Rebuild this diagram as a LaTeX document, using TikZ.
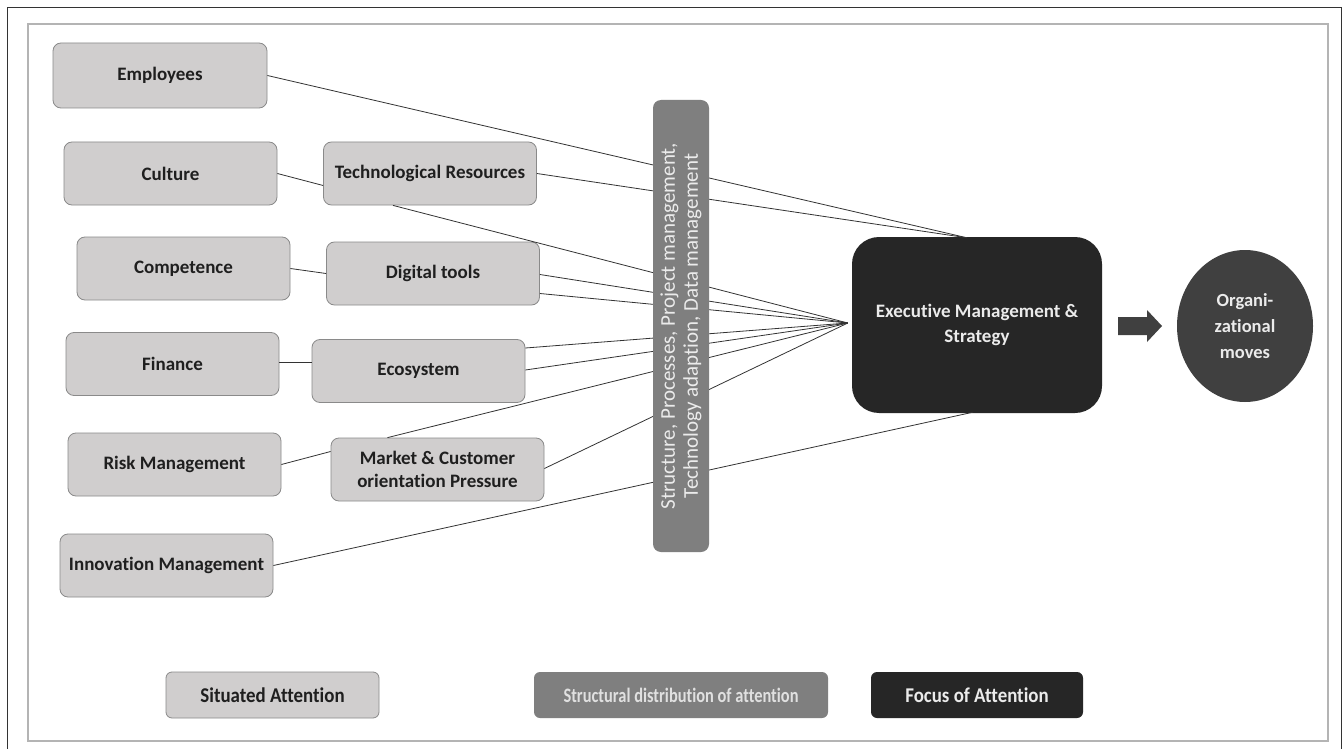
\documentclass[tikz,border=0pt]{standalone}
\usepackage{fontspec}
\setmainfont{Carlito}[Ligatures=NoCommon]
\usetikzlibrary{calc,shapes.geometric}

\definecolor{boxfill}{HTML}{D0CECE}
\definecolor{boxline}{HTML}{8A8A8A}
\definecolor{barfill}{HTML}{7F7F7F}
\definecolor{focusfill}{HTML}{262626}
\definecolor{movefill}{HTML}{404040}
\definecolor{linkcol}{HTML}{333333}
\definecolor{framecol}{HTML}{B4B4B4}

\tikzset{
  situated/.style={draw=boxline, fill=boxfill, rounded corners=8pt, line width=0.8pt,
    minimum width=213pt, minimum height=63pt, inner sep=2pt, align=center,
    text=black!88, font=\bfseries\fontsize{19}{23}\selectfont},
  structbar/.style={fill=barfill, rounded corners=8pt, minimum width=56pt,
    minimum height=452pt, inner sep=0pt},
  focusbox/.style={fill=focusfill, rounded corners=27pt, minimum width=250pt,
    minimum height=176pt, align=center, text=white!92!black,
    font=\bfseries\fontsize{19}{25}\selectfont},
  movebox/.style={ellipse, fill=movefill, minimum width=136pt, minimum height=152pt,
    inner sep=0pt, align=center, text=white!92!black,
    font=\bfseries\fontsize{18.5}{26}\selectfont},
  legendbox/.style={rounded corners=6pt, minimum height=46pt, inner sep=2pt,
    font=\bfseries\fontsize{21}{24}\selectfont},
  link/.style={draw=linkcol, line width=0.8pt},
}

\begin{document}
\begin{tikzpicture}[x=1pt, y=-1pt]
\useasboundingbox (0,0) rectangle (1344,749);
\fill[white] (0,0) rectangle (1344,749);

% frames
\draw[line width=1pt, black!80] (7,8) rectangle (1341,760);
\draw[line width=1.6pt, framecol] (28,24) rectangle (1328,741);

% situated attention boxes
\node[situated, minimum width=214pt, minimum height=65pt] (emp) at (160,75.5) {Employees};
\node[situated] (cult)  at (170.5,173.5) {Culture};
\node[situated] (tech)  at (430,173.5)   {Technological Resources};
\node[situated] (comp)  at (183.5,268.5) {Competence};
\node[situated] (dig)   at (433,273.5)   {Digital tools};
\node[situated] (fin)   at (172.5,364)   {Finance};
\node[situated] (eco)   at (418.5,371)   {Ecosystem};
\node[situated] (risk)  at (174.5,464.5) {Risk Management};
\node[situated] (mkt)   at (437.5,469.5) {Market \& Customer\\orientation Pressure};
\node[situated] (innov) at (166.5,565.5) {Innovation Management};

% focus of attention
\node[focusbox] (exec) at (977,325) {Executive Management \&\\Strategy};
\coordinate (exectop)  at ($(exec.north)+(-10,1)$);
\coordinate (execleft) at ($(exec.west)+(-4,-2)$);
\coordinate (execbot)  at ($(exec.south)+(-4,-1)$);

% connectors (drawn below the structural bar)
\draw[link] (emp.east) -- (exectop);
\draw[link] (tech.east) -- (exectop);
\draw[link] (cult.east) -- ([yshift=-12pt]tech.west);
\draw[link] ([xshift=-37pt]tech.south) -- (execleft);
\draw[link] (comp.east) -- (dig.west);
\draw[link] ([yshift=-1pt]dig.east) -- (execleft);
\draw[link] ([yshift=-20pt]dig.east) -- (execleft);
\draw[link] ([yshift=2pt]fin.east) -- ([yshift=9pt]eco.west);
\draw[link] ([yshift=23pt]eco.east) -- (execleft);
\draw[link] ([yshift=1pt]eco.east) -- (execleft);
\draw[link] (risk.east) -- ([yshift=18pt]mkt.west);
\draw[link] ([xshift=-50pt]mkt.north) -- (execleft);
\draw[link] ([yshift=1pt]mkt.east) -- (execleft);
\draw[link] (innov.east) -- (execbot);

% structural distribution bar
\node[structbar] (bar) at (681,326) {};
\node[rotate=90, align=center, text=white!92!black,
      font=\fontsize{21}{23}\selectfont] (bartext) at (bar.center)
  {Structure, Processes, Project management,\\Technology adaption, Data management};

% organizational moves
\node[movebox] (moves) at (1245,326) {Organi-\\zational\\moves};

% block arrow between focus and moves
\fill[movefill] (1118,317) -- (1147,317) -- (1147,310) -- (1162,326)
  -- (1147,342) -- (1147,335) -- (1118,335) -- cycle;

% legend
\node[legendbox, draw=boxline, fill=boxfill, line width=0.8pt, minimum width=213pt,
      text=black!88] (legsit) at (272.5,695)
  {\scalebox{0.9}[1]{Situated Attention}};
\node[legendbox, fill=barfill, minimum width=294pt, text=white!88!black] (legstr) at (681,695)
  {\scalebox{0.8}[1]{\fontsize{20.5}{24}\selectfont Structural distribution of attention}};
\node[legendbox, fill=focusfill, minimum width=212pt, text=white!92!black] (legfoc) at (977,695)
  {\scalebox{0.9}[1]{Focus of Attention}};
\end{tikzpicture}
\end{document}
